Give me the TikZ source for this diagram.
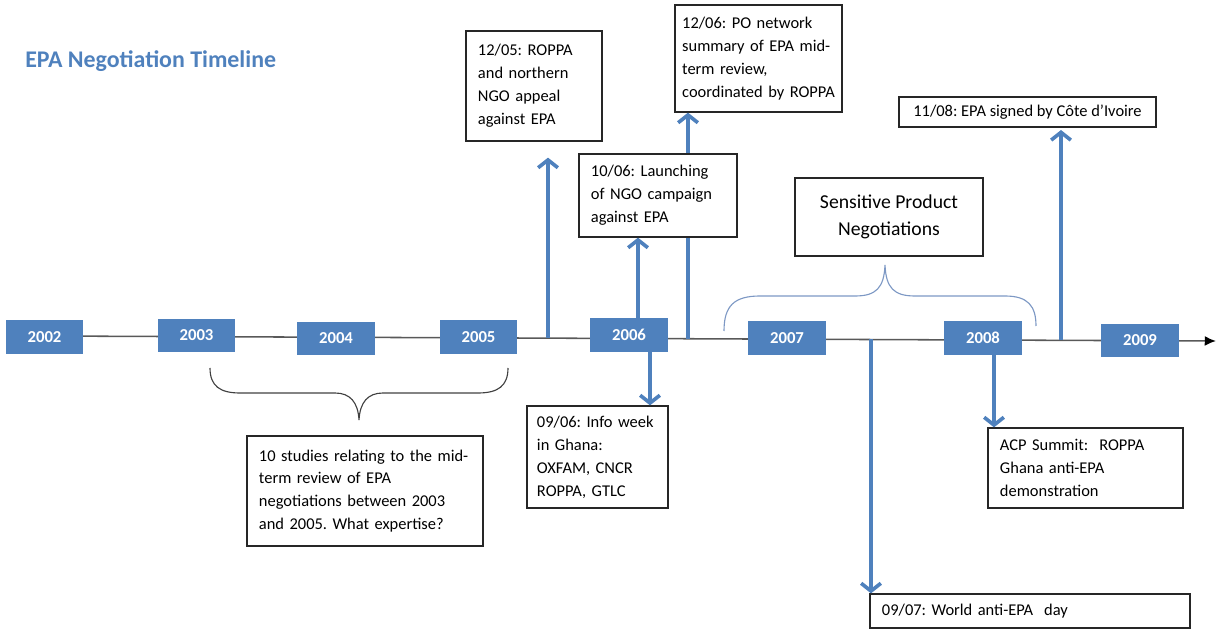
\documentclass[tikz,border=0pt]{standalone}
\usepackage{fontspec}
\setmainfont{Carlito}
\usepackage{xcolor}
\usetikzlibrary{arrows.meta}
\definecolor{epablue}{HTML}{4F81BD}
\definecolor{bracegray}{RGB}{125,152,196}
\frenchspacing

\begin{document}
\begin{tikzpicture}[x=0.025cm,y=-0.025cm,
  year/.style={fill=epablue,text=white,font=\fontsize{11.9}{14}\selectfont\bfseries,minimum width=1.925cm,minimum height=0.825cm,inner sep=0},
  note/.style={draw=black!85,line width=0.9pt,fill=white,align=left,inner xsep=0.3cm,inner ysep=0,font=\fontsize{11.7}{16.3}\selectfont},
  event/.style={draw=epablue,line width=2.6pt,-{Straight Barb[length=5.5pt,width=14pt]}},
  timeline/.style={draw=black!65,line width=1.1pt,-{Latex[length=8pt,width=7pt,black]}},
  spanbrace/.style={line width=0.8pt}]
\useasboundingbox (0,0) rectangle (1219,629);
% title
\node[font=\fontsize{17}{20}\selectfont\bfseries,text=epablue,anchor=west,inner sep=0] (title) at (25,61) {EPA Negotiation Timeline};

% the time axis
\coordinate (tstart) at (44,336);
\coordinate (tend) at (1216,341);
\draw[timeline] (tstart) -- (tend);

% years
\node[year] (y2002) at (44.5,337) {2002};
\node[year] (y2003) at (196.5,335.5) {2003};
\node[year] (y2004) at (336,338.5) {2004};
\node[year] (y2005) at (478.5,337) {2005};
\node[year] (y2006) at (629,335) {2006};
\node[year] (y2007) at (787,338) {2007};
\node[year] (y2008) at (983,338) {2008};
\node[year] (y2009) at (1140,340.5) {2009};

% events above the axis
\node[note,text width=2.8cm,minimum height=2.75cm] (n1205) at (534,86) {12/05: ROPPA\\and northern\\NGO appeal\\against EPA};
\node[note,inner xsep=0.18cm,text width=3.815cm,minimum height=2.675cm] (n1206) at (758.5,58.5) {12/06: PO network\\summary of EPA mid-\\term review,\\coordinated by ROPPA};
\node[note,inner xsep=0,minimum width=6.425cm,minimum height=0.75cm] (n1108) at (1027.5,112) {11/08: EPA signed by Côte d’Ivoire};

\coordinate (t1205) at (548,338);
\coordinate (t1206) at (688,338.7);
\coordinate (t1006) at (638,338.4);
\coordinate (t1108) at (1061,340.3);
\draw[event,shorten >=0.4cm] (t1205) -- (t1205 |- n1205.south);
\draw[event] (t1206) -- (t1206 |- n1206.south);
\draw[event,shorten >=0.06cm] (t1108) -- (t1108 |- n1108.south);

% this one hides the 12/06 arrow
\node[note,text width=3.35cm,minimum height=2.075cm] (n1006) at (658,195.5) {10/06: Launching\\of NGO campaign\\against EPA};
\draw[event] (t1006 |- y2006.north) -- (t1006 |- n1006.south);

% events below the axis
\node[note,inner xsep=0.25cm,text width=3.025cm,minimum height=2.55cm] (n0906) at (597.5,457) {09/06: Info week\\in Ghana:\\OXFAM, CNCR\\ROPPA, GTLC};
\node[note,text width=4.275cm,minimum height=2cm] (nacp) at (1085.5,468) {ACP Summit:\ \ ROPPA\\Ghana anti-EPA\\demonstration};
\node[note,text width=7.4cm,minimum height=0.85cm] (n0907) at (1030,611) {09/07: World anti-EPA\ \ day};

\coordinate (t0906) at (650,338.5);
\coordinate (t0907) at (871,339.5);
\coordinate (tacp) at (994,340);
\draw[event] (t0906 |- y2006.south) -- (t0906 |- n0906.north);
\draw[event] (t0907) -- (t0907 |- n0907.north);
\draw[event] (tacp |- y2008.south) -- (tacp |- nacp.north);

% brace over 2007--2008
\node[draw=black!85,line width=0.9pt,minimum width=4.7cm,minimum height=1.95cm,align=center,inner sep=0,font=\fontsize{14}{19.5}\selectfont] (nspn) at (889,217) {Sensitive Product\\Negotiations};
\draw[spanbrace,bracegray] (724,331) .. controls (724,306) and (734,296) .. (760,296) -- (855,296) .. controls (876,296) and (884,288) .. (885,265) .. controls (886,288) and (894,296) .. (915,296) -- (1005,296) .. controls (1028,296) and (1036,306) .. (1036,326);

% brace under 2003--2005
\draw[spanbrace,black!75] (210,368) .. controls (210,386) and (220,393) .. (240,393) -- (335,393) .. controls (350,393) and (358,402) .. (359,420) .. controls (360,402) and (368,393) .. (383,393) -- (478,393) .. controls (498,393) and (508,386) .. (508,368);
\node[note,text width=5.3cm,minimum height=2.75cm] (nstudies) at (365,491) {10 studies relating to the mid-\\term review of EPA\\negotiations between 2003\\and 2005. What expertise?};
\end{tikzpicture}
\end{document}
